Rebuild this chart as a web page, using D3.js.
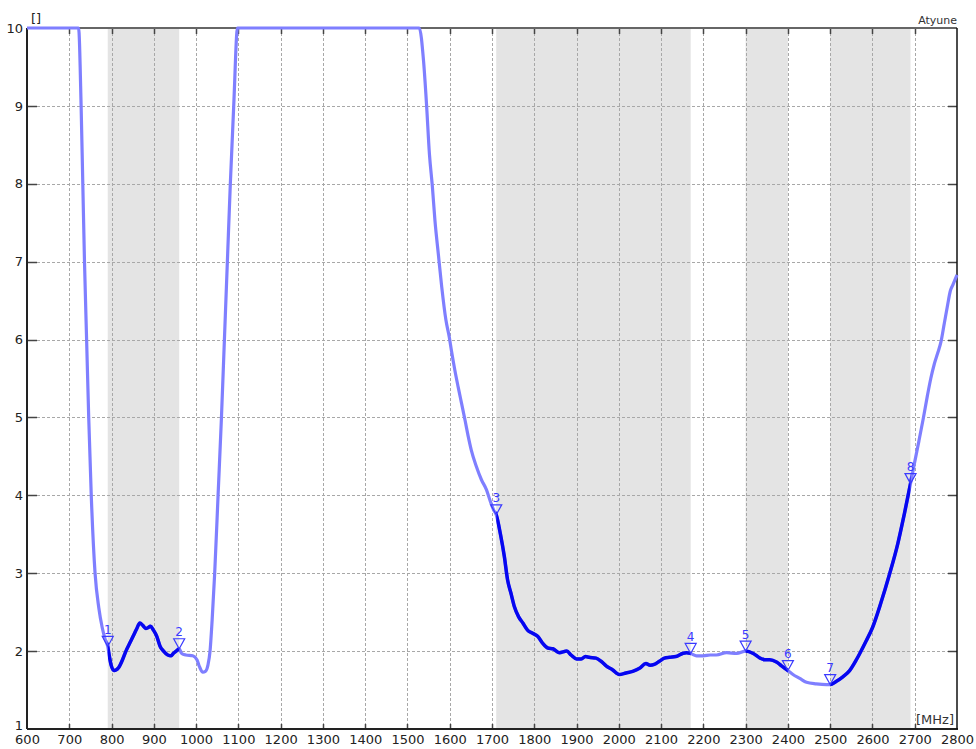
<!DOCTYPE html>
<html>
<head>
<meta charset="utf-8">
<script src="https://cdn.jsdelivr.net/npm/d3@7"></script>
<style>
  html, body { margin: 0; padding: 0; background: #fff; }
  svg { display: block; }
  text { font-family: "DejaVu Sans", Verdana, sans-serif; }
</style>
</head>
<body>
<svg id="chart" width="976" height="749"></svg>
<script>
// ---------- data ----------
const freqs = [600,700,722,728,732,736,741,746,752,761,770,778,785,791,795,799,806,817,826,834,842,851,859,867,874,881,886,892,899,907,915,923,933,941,946,953,960,966,976,992,1002,1008,1016,1022,1028,1033,1038,1044,1052,1060,1067,1074,1081,1089,1098,1528,1538,1545,1552,1559,1565,1573,1581,1591,1599,1604,1612,1620,1628,1636,1644,1651,1663,1675,1687,1695,1704,1710,1720,1729,1737,1745,1753,1763,1773,1784,1796,1808,1820,1832,1844,1859,1877,1887,1900,1911,1921,1930,1946,1958,1970,1985,2001,2017,2033,2049,2064,2074,2084,2096,2108,2120,2135,2151,2160,2170,2184,2200,2216,2231,2255,2279,2300,2318,2334,2345,2357,2373,2385,2400,2412,2428,2444,2467,2491,2500,2514,2530,2546,2561,2570,2585,2600,2620,2640,2660,2675,2690,2700,2710,2720,2730,2738,2746,2754,2762,2770,2778,2784,2790,2800];
const vswr  = [10,10,10,9,8,7,6,5,4,3,2.55,2.3,2.15,2.06,1.93,1.82,1.75,1.79,1.89,2.0,2.09,2.19,2.28,2.36,2.33,2.29,2.30,2.32,2.27,2.19,2.06,2.0,1.95,1.94,1.97,2.0,2.03,1.97,1.95,1.94,1.89,1.80,1.73,1.74,1.82,2.0,2.4,3.0,4.0,5.0,6.0,7.0,8.0,9.0,10,10,9.58,9.03,8.38,7.96,7.53,7.10,6.68,6.25,6.03,5.86,5.61,5.39,5.18,4.97,4.75,4.58,4.37,4.20,4.07,3.94,3.81,3.75,3.50,3.22,2.91,2.74,2.57,2.44,2.36,2.27,2.23,2.19,2.10,2.04,2.03,1.98,2.0,1.95,1.90,1.90,1.93,1.92,1.91,1.87,1.81,1.76,1.70,1.72,1.74,1.78,1.84,1.82,1.83,1.87,1.91,1.92,1.93,1.97,1.98,1.97,1.94,1.94,1.95,1.95,1.98,1.97,2.0,1.97,1.91,1.89,1.89,1.86,1.81,1.75,1.70,1.65,1.60,1.58,1.57,1.57,1.61,1.67,1.75,1.88,1.97,2.13,2.3,2.62,2.98,3.38,3.75,4.15,4.43,4.70,4.98,5.28,5.50,5.68,5.82,5.97,6.21,6.45,6.62,6.70,6.83];

const bandStart = [791, 1710, 2300, 2500];
const bandEnd   = [960, 2170, 2400, 2690];

const markerLabels = ["1","2","3","4","5","6","7","8"];
const markerFreqs  = [791, 960, 1710, 2170, 2300, 2400, 2500, 2690];
const markerVals   = [2.06, 2.03, 3.75, 1.97, 2.0, 1.75, 1.57, 4.15];

const xTicks = [600,700,800,900,1000,1100,1200,1300,1400,1500,1600,1700,1800,1900,2000,2100,2200,2300,2400,2500,2600,2700,2800];
const yTicks = [1,2,3,4,5,6,7,8,9,10];

// ---------- layout ----------
const L = 27, R = 957, T = 28, B = 729;
const svg = d3.select("#chart");
const x = d3.scaleLinear().domain([600, 2800]).range([L, R]);
const y = d3.scaleLinear().domain([1, 10]).range([B, T]);

const data = freqs.map((f, i) => ({ f, v: vswr[i] }));
const bands = bandStart.map((s, i) => ({ s, e: bandEnd[i] }));

// bands
svg.append("g").selectAll("rect").data(bands).join("rect")
  .attr("x", d => x(d.s)).attr("y", T)
  .attr("width", d => x(d.e) - x(d.s)).attr("height", B - T)
  .attr("fill", "#e4e4e4");

// grid
const grid = svg.append("g")
  .attr("stroke", "#a8a8a8").attr("stroke-width", 1).attr("stroke-dasharray", "3,2");
grid.selectAll("line.v").data(xTicks.slice(1, -1)).join("line")
  .attr("x1", d => Math.round(x(d)) + 0.5).attr("x2", d => Math.round(x(d)) + 0.5)
  .attr("y1", T).attr("y2", B);
grid.selectAll("line.h").data(yTicks.slice(1, -1)).join("line")
  .attr("y1", d => Math.round(y(d)) + 0.5).attr("y2", d => Math.round(y(d)) + 0.5)
  .attr("x1", L).attr("x2", R);

// axes (D3 axis generators for ticks and labels)
const axB = svg.append("g").attr("transform", `translate(0,${B})`)
  .call(d3.axisBottom(x).tickValues(xTicks).tickSize(0).tickPadding(6).tickFormat(d3.format("d")));
axB.select(".domain").remove();
axB.selectAll("text").attr("font-size", 13).attr("fill", "#222").attr("font-family", "DejaVu Sans");

const axL = svg.append("g").attr("transform", `translate(${L},0)`)
  .call(d3.axisLeft(y).tickValues(yTicks).tickSize(0).tickPadding(4).tickFormat(d3.format("d")));
axL.select(".domain").remove();
axL.selectAll("text").attr("font-size", 13).attr("fill", "#222").attr("font-family", "DejaVu Sans");
axL.selectAll(".tick").filter(d => d === 1).select("text").attr("dy", "0.05em");

// tick marks inside frame
const tk = svg.append("g").attr("stroke", "#444").attr("stroke-width", 1.5);
tk.selectAll("line.t").data(xTicks.slice(1, -1)).join("line")
  .attr("x1", d => Math.round(x(d)) + 0.5).attr("x2", d => Math.round(x(d)) + 0.5)
  .attr("y1", T).attr("y2", T + 6);
tk.selectAll("line.b").data(xTicks.slice(1, -1)).join("line")
  .attr("x1", d => Math.round(x(d)) + 0.5).attr("x2", d => Math.round(x(d)) + 0.5)
  .attr("y1", B).attr("y2", B - 5);
tk.selectAll("line.l").data(yTicks.slice(1, -1)).join("line")
  .attr("y1", d => Math.round(y(d)) + 0.5).attr("y2", d => Math.round(y(d)) + 0.5)
  .attr("x1", L).attr("x2", L + 10);
tk.selectAll("line.r").data(yTicks.slice(1, -1)).join("line")
  .attr("y1", d => Math.round(y(d)) + 0.5).attr("y2", d => Math.round(y(d)) + 0.5)
  .attr("x1", R - 9).attr("x2", R);

// frame
svg.append("line").attr("x1", L).attr("x2", R).attr("y1", T).attr("y2", T).attr("stroke", "#666").attr("stroke-width", 2);
svg.append("line").attr("x1", L).attr("x2", R + 1).attr("y1", B).attr("y2", B).attr("stroke", "#222").attr("stroke-width", 2);
svg.append("line").attr("x1", L).attr("x2", L).attr("y1", T).attr("y2", B).attr("stroke", "#222").attr("stroke-width", 2);
svg.append("line").attr("x1", R).attr("x2", R).attr("y1", T).attr("y2", B).attr("stroke", "#111").attr("stroke-width", 1.5);

// curve
const line = d3.line().x(d => x(d.f)).y(d => y(d.v)).curve(d3.curveMonotoneX);

const defs = svg.append("defs");
const cp = defs.append("clipPath").attr("id", "bandclip");
cp.selectAll("rect").data(bands).join("rect")
  .attr("x", d => x(d.s)).attr("y", 0)
  .attr("width", d => x(d.e) - x(d.s)).attr("height", 749);

svg.append("path").datum(data).attr("d", line)
  .attr("fill", "none").attr("stroke", "#7f7fff").attr("stroke-width", 3.2)
  .attr("stroke-linejoin", "round");
svg.append("path").datum(data).attr("d", line)
  .attr("clip-path", "url(#bandclip)")
  .attr("fill", "none").attr("stroke", "#0606f0").attr("stroke-width", 3.5)
  .attr("stroke-linejoin", "round");

// markers
const markers = markerFreqs.map((f, i) => ({ f, v: markerVals[i], lab: markerLabels[i] }));
const mg = svg.append("g").selectAll("g").data(markers).join("g")
  .attr("transform", d => `translate(${x(d.f)},${y(d.v)})`);
mg.append("path").attr("d", "M-5.5,-10 L5.5,-10 L0,0 Z")
  .attr("fill", "none").attr("stroke", "#3a3aff").attr("stroke-width", 1.2);
mg.append("text").attr("x", 0).attr("y", -12.5).attr("text-anchor", "middle")
  .attr("font-size", 12).attr("fill", "#3a3aff").text(d => d.lab);

// labels
svg.append("text").attr("x", 31).attr("y", 23).attr("font-size", 13).attr("fill", "#222").text("[]");
svg.append("text").attr("x", R).attr("y", 24).attr("text-anchor", "end").attr("font-size", 11).attr("fill", "#333").text("Atyune");
svg.append("text").attr("x", R - 3).attr("y", 724).attr("text-anchor", "end").attr("font-size", 13).attr("fill", "#333").text("[MHz]");
</script>
</body>
</html>
